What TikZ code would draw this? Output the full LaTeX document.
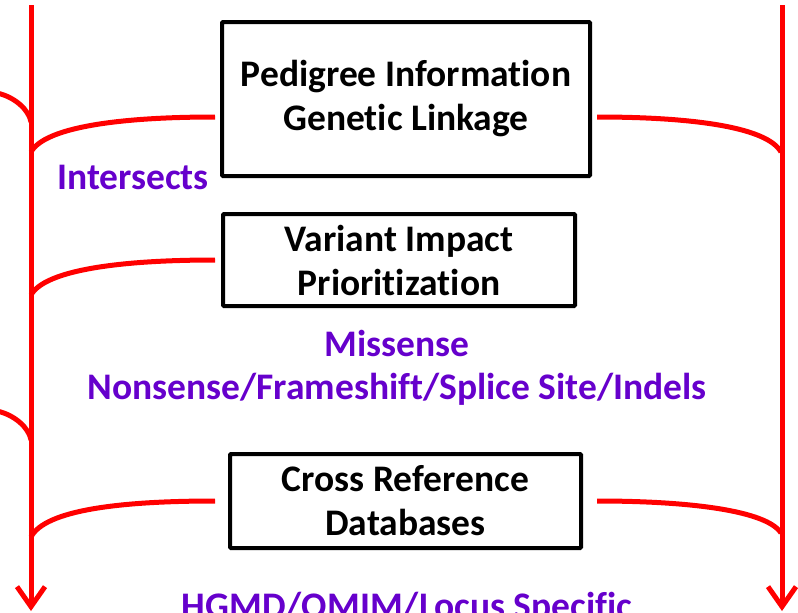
\documentclass[tikz,border=0pt]{standalone}
\usepackage{fontspec}
\setmainfont{Carlito}[Ligatures=NoCommon]
\usetikzlibrary{arrows.meta}
\definecolor{hitpurple}{HTML}{6600CC}
\tikzset{
  filterbox/.style={draw=black, line width=4pt, rounded corners=1pt, align=center,
    font=\bfseries\fontsize{37.5}{44}\selectfont, inner sep=0pt},
  hitlabel/.style={text=hitpurple, align=center, font=\bfseries\fontsize{37.5}{44}\selectfont},
  flow/.style={draw=red, line width=5pt},
}

\begin{document}
\begin{tikzpicture}[x=1pt,y=1pt]
	\useasboundingbox (0,0) rectangle (798,-613);
	\clip (0,0) rectangle (798,-613);
	% filter boxes
	\node [filterbox, minimum width=368pt, minimum height=154pt] (pedigree) at (406,-99) {Pedigree Information\\Genetic Linkage};
	\node [filterbox, minimum width=352pt, minimum height=92pt] (impact) at (399,-260) {Variant Impact\\Prioritization};
	\node [filterbox, minimum width=351pt, minimum height=94pt] (xref) at (405.5,-501) {Cross Reference\\Databases};
	% main flows
	\coordinate (ltop) at (31,-5);
	\coordinate (lbot) at (31,-611);
	\coordinate (rtop) at (782,-5);
	\coordinate (rbot) at (782,-611);
	\draw [flow, -{Straight Barb[length=20pt,width=28pt]}] (ltop) -- (lbot);
	\draw [flow, -{Straight Barb[length=20pt,width=28pt]}] (rtop) -- (rbot);
	% stubs coming in from the left
	\coordinate (s1) at (-3,-93);
	\coordinate (m1) at (31,-122);
	\coordinate (s2) at (-3,-411);
	\coordinate (m2) at (31,-440);
	\draw [flow] (s1) .. controls +(18,-4) and +(-2,12) .. (m1);
	\draw [flow] (s2) .. controls +(18,-4) and +(-2,12) .. (m2);
	% branches to the boxes
	\coordinate (j1) at (31,-152);
	\coordinate (j2) at (31,-295);
	\coordinate (j3) at (31,-537);
	\coordinate (k1) at (781,-152);
	\coordinate (k3) at (781,-533);
	\draw [flow] ([xshift=-5pt,yshift=-18pt]pedigree.west) .. controls +(-95,0) and +(14,25) .. (j1);
	\draw [flow] ([xshift=5pt,yshift=-18pt]pedigree.east) .. controls +(95,0) and +(-14,25) .. (k1);
	\draw [flow] ([xshift=-6pt]impact.west) .. controls +(-95,0) and +(14,25) .. (j2);
	\draw [flow] ([xshift=-13pt]xref.west) .. controls +(-95,0) and +(14,27) .. (j3);
	\draw [flow] ([xshift=14pt]xref.east) .. controls +(95,0) and +(-14,22) .. (k3);
	% hits
	\node [hitlabel, anchor=base] (intersects) at (133,-189) {Intersects};
	\node [hitlabel, anchor=base] (missense) at (397,-356) {Missense};
	\node [hitlabel, anchor=base] (nonsense) at (397,-399) {Nonsense/Frameshift/Splice Site/Indels};
	\node [hitlabel, anchor=base] (hgmd) at (407,-618) {HGMD/OMIM/Locus Specific};
\end{tikzpicture}
\end{document}
